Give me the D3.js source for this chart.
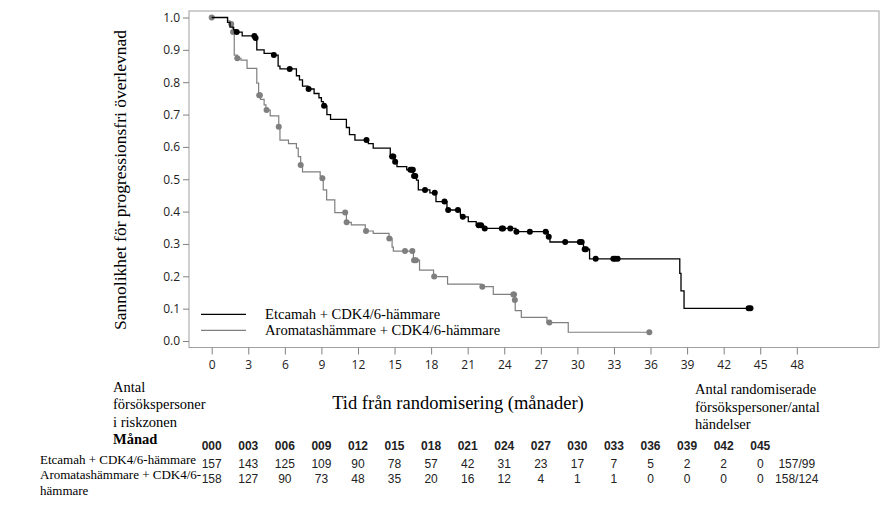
<!DOCTYPE html>
<html>
<head>
<meta charset="utf-8">
<script src="https://cdn.jsdelivr.net/npm/d3@7"></script>
<style>
  body { margin: 0; background: #fff; }
  svg { display: block; }
  .serif { font-family: "Liberation Serif", "Times New Roman", serif; fill: #000; }
  .sans { font-family: "Open Sans", "Noto Sans", sans-serif; fill: #222; }
  .num { font-family: "Liberation Sans", Arial, sans-serif; fill: #222; }
</style>
</head>
<body>
<script>
// Etcamah + CDK4/6-hämmare: step times (months) and survival after each step
const etcTimes = [0, 1.3, 1.5, 1.8, 2.0, 2.5, 3.55, 3.7, 4.3, 5.0, 5.45, 5.6, 6.95, 7.2, 7.45, 7.9, 8.4, 8.8, 9.0, 9.15, 9.45, 9.75, 11.05, 11.3, 11.75, 12.85, 13.25, 14.65, 15.0, 15.2, 16.0, 16.55, 16.8, 16.95, 17.9, 18.4, 19.3, 20.4, 20.55, 21.05, 21.7, 22.3, 24.95, 27.6, 27.75, 30.5, 31.0, 38.4, 38.5, 38.75, 44.2];
const etcSurv  = [1.0, 0.985, 0.97, 0.962, 0.955, 0.943, 0.937, 0.90, 0.889, 0.884, 0.85, 0.841, 0.82, 0.807, 0.788, 0.779, 0.765, 0.752, 0.74, 0.727, 0.70, 0.685, 0.66, 0.638, 0.621, 0.61, 0.596, 0.57, 0.554, 0.539, 0.529, 0.51, 0.497, 0.467, 0.458, 0.431, 0.405, 0.389, 0.384, 0.369, 0.358, 0.348, 0.338, 0.322, 0.306, 0.284, 0.254, 0.209, 0.155, 0.101, 0.101];
const etcCensor = [2.05, 3.5, 3.6, 5.1, 6.4, 7.95, 9.22, 12.7, 14.8, 14.9, 15.05, 16.3, 16.4, 16.5, 16.6, 16.7, 17.5, 18.3, 19.1, 19.4, 20.2, 20.6, 21.9, 22.1, 22.4, 23.8, 23.9, 24.5, 25.0, 26.1, 27.4, 27.65, 29.0, 30.2, 30.35, 30.6, 30.7, 31.5, 32.95, 33.1, 33.3, 44.05, 44.2];

// Aromatashämmare + CDK4/6-hämmare
const aroTimes = [0, 1.3, 1.5, 1.7, 1.85, 2.1, 2.4, 2.9, 3.7, 3.85, 4.0, 4.3, 4.45, 4.8, 5.5, 5.6, 6.3, 6.95, 7.1, 7.3, 7.45, 8.9, 9.05, 9.15, 9.43, 10.1, 11.05, 11.45, 12.6, 13.25, 14.55, 14.8, 14.9, 16.55, 17.05, 18.2, 19.35, 22.1, 23.1, 24.85, 24.9, 25.4, 27.5, 29.25, 35.9];
const aroSurv  = [1.0, 0.99, 0.98, 0.955, 0.884, 0.874, 0.868, 0.843, 0.797, 0.76, 0.747, 0.73, 0.714, 0.696, 0.662, 0.621, 0.61, 0.596, 0.57, 0.544, 0.523, 0.51, 0.503, 0.467, 0.436, 0.397, 0.367, 0.359, 0.34, 0.333, 0.317, 0.29, 0.278, 0.25, 0.219, 0.199, 0.176, 0.168, 0.144, 0.127, 0.094, 0.073, 0.057, 0.027, 0.027];
const aroCensor = [0, 1.6, 1.75, 2.1, 3.9, 3.95, 4.5, 5.5, 7.3, 9.08, 10.95, 11.07, 12.66, 14.57, 15.86, 16.46, 16.6, 16.75, 18.25, 22.2, 24.75, 24.8, 24.87, 27.7, 35.9];

// risk table
const months = [0, 3, 6, 9, 12, 15, 18, 21, 24, 27, 30, 33, 36, 39, 42, 45];
const monthLabels = ["000", "003", "006", "009", "012", "015", "018", "021", "024", "027", "030", "033", "036", "039", "042", "045"];
const etcRisk = [157, 143, 125, 109, 90, 78, 57, 42, 31, 23, 17, 7, 5, 2, 2, 0];
const aroRisk = [158, 127, 90, 73, 48, 35, 20, 16, 12, 4, 1, 1, 0, 0, 0, 0];
const totals = ["157/99", "158/124"];

const xTicks = d3.range(0, 49, 3);
const yTicks = d3.range(0, 1.01, 0.1);

const W = 894, H = 512;
const svg = d3.select('body').append('svg')
  .attr('width', W)
  .attr('height', H);

const x = d3.scaleLinear().domain([0, 48]).range([211.7, 796.8]);
const y = d3.scaleLinear().domain([0, 1]).range([341, 17.5]);

const frame = {left: 189, top: 11, right: 879, bottom: 347.5};

// plot frame
svg.append('rect')
  .attr('x', frame.left).attr('y', frame.top)
  .attr('width', frame.right - frame.left)
  .attr('height', frame.bottom - frame.top)
  .attr('fill', 'none')
  .attr('stroke', '#a0a0a0')
  .attr('stroke-width', 1);

// x axis
const xAxis = svg.append('g')
  .attr('transform', `translate(0,${frame.bottom})`)
  .call(d3.axisBottom(x).tickValues(xTicks).tickSize(7).tickPadding(6).tickFormat(d3.format('d')));
xAxis.select('.domain').remove();
xAxis.selectAll('line').attr('stroke', '#808080');
xAxis.selectAll('text').attr('class', 'sans').style('font-size', '12px').attr('fill', '#222');

// y axis
const yAxis = svg.append('g')
  .attr('transform', `translate(${frame.left},0)`)
  .call(d3.axisLeft(y).tickValues(yTicks).tickSize(6).tickPadding(3).tickFormat(d3.format('.1f')));
yAxis.select('.domain').remove();
yAxis.selectAll('line').attr('stroke', '#808080');
yAxis.selectAll('text').attr('class', 'sans').style('font-size', '12px').attr('fill', '#222');

// KM curves
const line = d3.line()
  .x(d => x(d[0]))
  .y(d => y(d[1]))
  .curve(d3.curveStepAfter);

function survAt(times, surv, t) {
  let v = surv[0];
  for (let i = 0; i < times.length; i++) {
    if (times[i] <= t) v = surv[i];
  }
  return v;
}

const series = [
  {times: aroTimes, surv: aroSurv, censor: aroCensor, color: '#7f7f7f', width: 1.2, r: 3},
  {times: etcTimes, surv: etcSurv, censor: etcCensor, color: '#000', width: 1.3, r: 3}
];

series.forEach(s => {
  const pts = s.times.map((t, i) => [t, s.surv[i]]);
  svg.append('path')
    .datum(pts)
    .attr('d', line)
    .attr('fill', 'none')
    .attr('stroke', s.color)
    .attr('stroke-width', s.width);

  svg.append('g').selectAll('circle')
    .data(s.censor)
    .join('circle')
    .attr('cx', d => x(d))
    .attr('cy', d => y(survAt(s.times, s.surv, d)))
    .attr('r', s.r)
    .attr('fill', s.color);
});

// legend
const legend = [
  {label: 'Etcamah + CDK4/6-hämmare', color: '#000', width: 1.3},
  {label: 'Aromatashämmare + CDK4/6-hämmare', color: '#7f7f7f', width: 1.2}
];
legend.forEach((l, i) => {
  const ly = 314.3 + i * 16;
  svg.append('line')
    .attr('x1', 201).attr('x2', 246)
    .attr('y1', ly).attr('y2', ly)
    .attr('stroke', l.color).attr('stroke-width', l.width);
  svg.append('text')
    .attr('class', 'serif')
    .attr('x', 265).attr('y', ly + 5)
    .style('font-size', '14.6px')
    .text(l.label);
});

// axis titles
svg.append('text')
  .attr('class', 'serif')
  .attr('transform', `translate(126,180) rotate(-90)`)
  .attr('text-anchor', 'middle')
  .style('font-size', '17.5px')
  .text('Sannolikhet för progressionsfri överlevnad');

svg.append('text')
  .attr('class', 'serif')
  .attr('x', 458).attr('y', 409)
  .attr('text-anchor', 'middle')
  .style('font-size', '18.5px')
  .text('Tid från randomisering (månader)');

// left risk table header
['Antal', 'försökspersoner', 'i riskzonen'].forEach((t, i) => {
  svg.append('text')
    .attr('class', 'serif')
    .attr('x', 113).attr('y', 391.5 + i * 17.5)
    .style('font-size', '14.5px')
    .text(t);
});
svg.append('text')
  .attr('class', 'serif')
  .attr('x', 113).attr('y', 444)
  .style('font-size', '14.5px')
  .style('font-weight', 'bold')
  .text('Månad');

// right header
['Antal randomiserade', 'försökspersoner/antal', 'händelser'].forEach((t, i) => {
  svg.append('text')
    .attr('class', 'serif')
    .attr('x', 695).attr('y', 394 + i * 17.5)
    .style('font-size', '14.5px')
    .text(t);
});

// month row
svg.append('g').selectAll('text')
  .data(months)
  .join('text')
  .attr('class', 'num')
  .attr('x', d => x(d))
  .attr('y', 450)
  .attr('text-anchor', 'middle')
  .style('font-size', '12px')
  .style('font-weight', 'bold')
  .attr('fill', '#000')
  .text((d, i) => monthLabels[i]);

// row labels
svg.append('text').attr('class', 'serif')
  .attr('x', 40).attr('y', 463.5)
  .style('font-size', '13px')
  .text('Etcamah + CDK4/6-hämmare');
svg.append('text').attr('class', 'serif')
  .attr('x', 40).attr('y', 478.5)
  .style('font-size', '13px')
  .text('Aromatashämmare + CDK4/6-');
svg.append('text').attr('class', 'serif')
  .attr('x', 40).attr('y', 494.5)
  .style('font-size', '13px')
  .text('hämmare');

// risk numbers
[etcRisk, aroRisk].forEach((row, r) => {
  svg.append('g').selectAll('text')
    .data(row)
    .join('text')
    .attr('class', 'num')
    .attr('x', (d, i) => x(months[i]))
    .attr('y', 468 + r * 14.5)
    .attr('text-anchor', 'middle')
    .style('font-size', '12px')
    .text(d => d);
  svg.append('text')
    .attr('class', 'num')
    .attr('x', x(48))
    .attr('y', 468 + r * 14.5)
    .attr('text-anchor', 'middle')
    .style('font-size', '12px')
    .text(totals[r]);
});
</script>
</body>
</html>
